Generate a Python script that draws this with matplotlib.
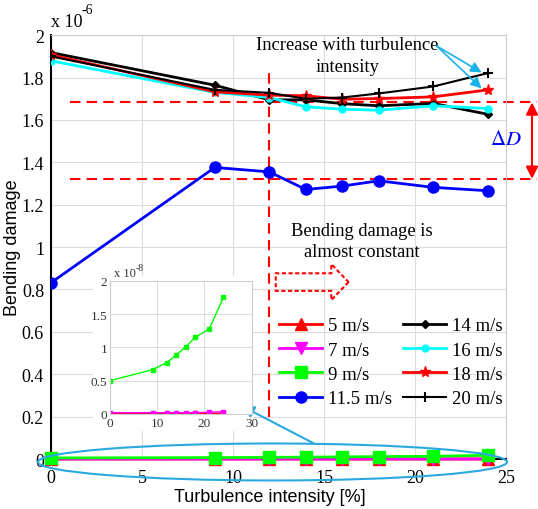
import matplotlib
matplotlib.use("Agg")
import matplotlib.pyplot as plt
import matplotlib.patches as mpatches
import numpy as np

plt.rcParams['font.family'] = 'serif'
plt.rcParams['font.serif'] = ['Liberation Serif', 'DejaVu Serif']
plt.rcParams['mathtext.fontset'] = 'stix'

# turbulence intensity [%]
ti = [0, 9, 12, 14, 16, 18, 21, 24]

# bending damage, main axis in units of 1e-6
d_115 = [0.832, 1.376, 1.355, 1.272, 1.288, 1.313, 1.282, 1.266]
d_14 = [1.918, 1.764, 1.695, 1.695, 1.677, 1.667, 1.678, 1.627]
d_16 = [1.879, 1.730, 1.706, 1.662, 1.651, 1.646, 1.667, 1.654]
d_18 = [1.907, 1.733, 1.717, 1.714, 1.698, 1.701, 1.709, 1.742]
d_20 = [1.900, 1.742, 1.728, 1.700, 1.706, 1.725, 1.758, 1.821]

# low wind speeds, in units of 1e-8 (inset)
d_5 = [0.005, 0.006, 0.006, 0.007, 0.007, 0.008, 0.009, 0.011]
d_7 = [0.020, 0.020, 0.020, 0.020, 0.020, 0.020, 0.025, 0.035]
d_9 = [0.50, 0.665, 0.77, 0.885, 1.005, 1.15, 1.275, 1.75]

d_lo = 1.683   # upper dashed level
d_hi = 1.322   # lower dashed level
ti_split = 12

fig = plt.figure(figsize=(5.38, 5.10), dpi=100)
ax = fig.add_axes([0.0948, 0.098, 0.8457, 0.831])

lw = 2
to_main = lambda v: np.array(v) / 100.0
ax.plot(ti, to_main(d_5), color='red', marker='^', ms=8, lw=lw, label='5 m/s', clip_on=False, zorder=3)
ax.plot(ti, to_main(d_7), color='magenta', marker='v', ms=8, lw=lw, label='7 m/s', clip_on=False, zorder=3)
ax.plot(ti, to_main(d_9), color='#00ff00', marker='s', ms=8, lw=lw, label='9 m/s', clip_on=False, zorder=3)
ax.plot(ti, d_115, color='blue', marker='o', ms=8, lw=lw, label='11.5 m/s', zorder=3)
ax.plot(ti, d_14, color='black', marker='D', ms=4, lw=lw, label='14 m/s', zorder=3)
ax.plot(ti, d_16, color='cyan', marker='o', ms=5, lw=lw, label='16 m/s', zorder=3)
ax.plot(ti, d_18, color='red', marker='*', ms=8, lw=lw, label='18 m/s', zorder=3)
ax.plot(ti, d_20, color='black', marker='+', ms=7, mew=1.5, lw=1.5, label='20 m/s', zorder=3)
ax.axhline(0, color='black', lw=2, zorder=2.5)

ax.set_xlim(0, 25)
ax.set_ylim(0, 2)
ax.set_xticks([0, 5, 10, 15, 20, 25])
ax.set_yticks(np.arange(0, 2.01, 0.2))
ax.set_yticklabels(['0', '0.2', '0.4', '0.6', '0.8', '1', '1.2', '1.4', '1.6', '1.8', '2'])
ax.tick_params(labelsize=13, length=0, pad=5)
ax.tick_params(axis='x', pad=7)
ax.grid(True, color='#dcdcdc', lw=0.8)
ax.set_axisbelow(True)
for s in ['top', 'right']:
    ax.spines[s].set_color('#cccccc')
ax.spines['left'].set_linewidth(1.5)
ax.spines['bottom'].set_linewidth(1.5)

ax.set_ylabel('Bending damage', family='Liberation Sans', fontsize=13)
ax.yaxis.set_label_coords(-0.066, 0.5)
ax.set_xlabel('Turbulence intensity [%]', family='Liberation Sans', fontsize=13)
ax.xaxis.set_label_coords(0.48, -0.068)

ax.text(0.0, 1.012, 'x 10', transform=ax.transAxes, fontsize=13, va='bottom')
ax.text(0.068, 1.045, '-6', transform=ax.transAxes, fontsize=10, va='bottom')

# dashed reference lines
dash = (0, (5, 3))
ax.plot([1.05, 26.7], [d_lo, d_lo], color='red', ls=dash, lw=1.5, clip_on=False, zorder=2)
ax.plot([1.05, 26.7], [d_hi, d_hi], color='red', ls=dash, lw=1.5, clip_on=False, zorder=2)
ax.plot([ti_split, ti_split], [0.2, 1.83], color='red', ls=dash, lw=1.5, zorder=2)

# delta D arrow
ax.annotate('', xy=(26.43, d_hi), xytext=(26.43, d_lo),
            arrowprops=dict(arrowstyle='<|-|>', color='red', lw=1.5,
                            mutation_scale=18, shrinkA=0, shrinkB=0),
            annotation_clip=False)
ax.text(25.0, 1.509, r'$\Delta D$', color='blue', fontsize=15, ha='center', va='center')

ax.text(16.3, 1.905, 'Increase with turbulence\nintensity', fontsize=13.3, ha='center',
        va='center', linespacing=1.35)
for yy in [1.824, 1.749]:
    ax.annotate('', xy=(23.66, yy), xytext=(21.19, 1.949),
                arrowprops=dict(arrowstyle='-|>', color='#1ab0e8', lw=1.2,
                                mutation_scale=16, shrinkA=0, shrinkB=0))

ax.text(17.1, 1.028, 'Bending damage is\nalmost constant', fontsize=13.3, ha='center',
        va='center', linespacing=1.3)
ax.add_patch(mpatches.FancyArrow(12.35, 0.835, 4.0, 0, width=0.083, head_width=0.17,
                                 head_length=0.95, length_includes_head=True, fill=False,
                                 ec='red', ls=(0, (2, 1.2)), lw=1.5, zorder=2))

# ellipse round the low wind speed curves, pointing to the inset
ax.add_patch(mpatches.Ellipse((12.17, -0.014), 25.77, 0.1745, fill=False, ec='#29a9e0',
                              lw=1.5, clip_on=False, zorder=4))
ax.annotate('', xy=(10.49, 0.25), xytext=(14.5, 0.071),
            arrowprops=dict(arrowstyle='-|>', color='#29a9e0', lw=1.5,
                            mutation_scale=18, shrinkA=0, shrinkB=0))

# white backing behind the inset
ax.add_patch(mpatches.Rectangle((2.3, 0.132), 8.8, 0.73, fc='white', ec='none', zorder=1))

ax.legend(loc='upper left', bbox_to_anchor=(0.485, 0.352), ncol=2, frameon=False,
          fontsize=13.5, handlelength=2.3, handletextpad=0.3, columnspacing=0.6,
          labelspacing=0.38, borderaxespad=0)

# inset with the low wind speeds
axi = fig.add_axes([0.2045, 0.1863, 0.2634, 0.2614])
axi.plot(ti, d_5, color='red', marker='s', ms=2.5, lw=1)
axi.plot(ti, d_7, color='magenta', marker='s', ms=2.5, lw=1)
axi.plot(ti, d_9, color='#00ff00', marker='s', ms=2.5, lw=1)
axi.set_xlim(0, 30)
axi.set_ylim(0, 2)
axi.set_xticks([0, 10, 20, 30])
axi.set_yticks([0, 0.5, 1, 1.5, 2])
axi.set_yticklabels(['0', '0.5', '1', '1.5', '2'])
axi.tick_params(labelsize=9.5, length=0, pad=2, colors='#333333')
axi.grid(True, color='#dcdcdc', lw=0.7)
for s in axi.spines.values():
    s.set_color('#cccccc')
    s.set_linewidth(0.8)
axi.text(0.03, 1.01, 'x 10', transform=axi.transAxes, fontsize=9, va='bottom', color='#333333')
axi.text(0.18, 1.065, '-8', transform=axi.transAxes, fontsize=7, va='bottom', color='#333333')

fig.savefig('out.png', dpi=100)
